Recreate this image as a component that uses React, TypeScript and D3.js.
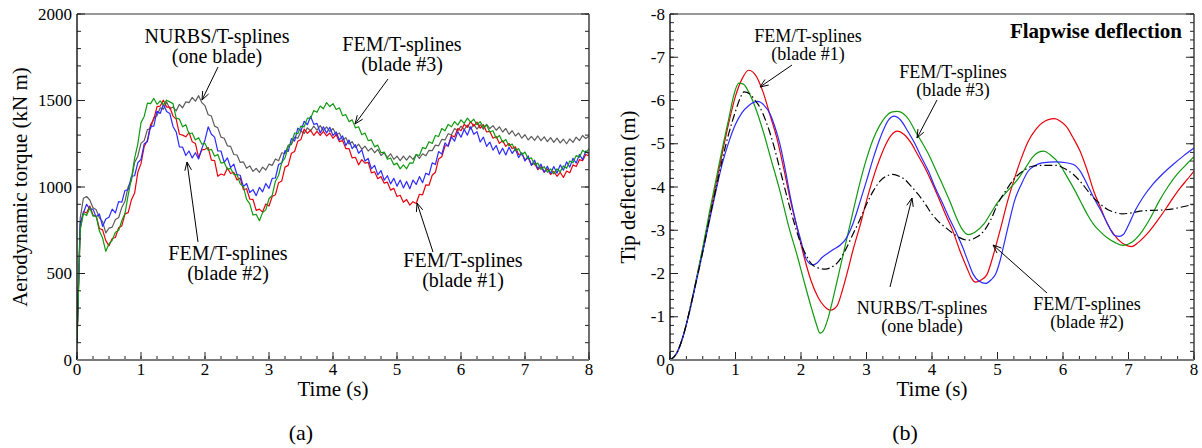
import React from "react";
import * as d3 from "d3";

// ---------- Panel (a): aerodynamic torque (kN m), sampled every 0.05 s from 0 to 8 s ----------
const TORQUE_TIME: number[] = d3.range(161).map((i) => +(i * 0.05).toFixed(2));

const torqueNurbs: number[] = [
  100, 820, 935, 945, 925, 880, 868, 822, 800, 735, 762, 768, 812, 822, 882, 918, 1002, 1038, 1142, 1178,
  1252, 1268, 1332, 1338, 1402, 1412, 1458, 1450, 1492, 1452, 1462, 1440, 1478, 1458, 1492, 1488, 1518, 1496, 1528, 1488,
  1470, 1418, 1410, 1352, 1342, 1288, 1282, 1238, 1235, 1188, 1185, 1142, 1145, 1108, 1122, 1090, 1108, 1085, 1115, 1098,
  1132, 1125, 1162, 1152, 1198, 1192, 1242, 1245, 1288, 1282, 1322, 1310, 1342, 1325, 1352, 1328, 1355, 1326, 1348, 1320,
  1338, 1302, 1312, 1272, 1285, 1248, 1262, 1228, 1248, 1218, 1236, 1208, 1225, 1198, 1218, 1182, 1198, 1170, 1192, 1160,
  1178, 1152, 1178, 1155, 1180, 1160, 1188, 1165, 1192, 1180, 1212, 1210, 1242, 1238, 1275, 1272, 1308, 1302, 1338, 1325,
  1352, 1332, 1358, 1336, 1362, 1335, 1360, 1334, 1362, 1338, 1355, 1328, 1348, 1318, 1338, 1305, 1325, 1295, 1312, 1282,
  1302, 1272, 1292, 1270, 1295, 1268, 1290, 1262, 1285, 1258, 1282, 1255, 1276, 1250, 1278, 1258, 1288, 1268, 1298, 1280,
  1295,
];

const torqueBlade1: number[] = [
  100, 760, 858, 850, 890, 838, 832, 760, 752, 690, 660, 702, 708, 765, 775, 845, 852, 925, 965, 1085,
  1135, 1235, 1270, 1360, 1392, 1465, 1468, 1502, 1462, 1462, 1410, 1392, 1305, 1300, 1290, 1315, 1262, 1252, 1170, 1215,
  1218, 1228, 1155, 1152, 1062, 1075, 1068, 1110, 1078, 1085, 1040, 1052, 985, 990, 930, 928, 865, 872, 855, 902,
  890, 945, 955, 1025, 1035, 1115, 1125, 1195, 1205, 1265, 1275, 1335, 1310, 1328, 1298, 1322, 1298, 1322, 1295, 1312,
  1282, 1302, 1262, 1268, 1222, 1222, 1168, 1172, 1128, 1158, 1138, 1142, 1082, 1088, 1048, 1060, 1022, 1028, 982, 992,
  945, 952, 912, 928, 895, 915, 905, 958, 955, 1012, 1010, 1068, 1085, 1162, 1175, 1238, 1240, 1298, 1290, 1338,
  1325, 1362, 1345, 1378, 1352, 1375, 1340, 1360, 1318, 1322, 1282, 1292, 1252, 1268, 1235, 1252, 1222, 1232, 1188, 1192,
  1158, 1168, 1128, 1138, 1100, 1118, 1085, 1105, 1072, 1090, 1062, 1085, 1055, 1092, 1082, 1128, 1118, 1158, 1152, 1188,
  1180,
];

const torqueBlade2: number[] = [
  100, 790, 850, 900, 872, 872, 826, 845, 772, 815, 825, 872, 850, 915, 912, 980, 985, 1062, 1065, 1140,
  1160, 1250, 1262, 1350, 1352, 1438, 1425, 1478, 1436, 1425, 1350, 1318, 1232, 1230, 1182, 1208, 1168, 1198, 1162, 1222,
  1272, 1348, 1305, 1288, 1208, 1208, 1142, 1168, 1112, 1132, 1072, 1068, 1002, 1020, 968, 985, 950, 998, 972, 1020,
  992, 1050, 1052, 1130, 1140, 1210, 1205, 1280, 1265, 1340, 1325, 1380, 1360, 1408, 1362, 1368, 1312, 1348, 1312, 1345,
  1298, 1318, 1272, 1295, 1240, 1272, 1222, 1245, 1195, 1215, 1150, 1165, 1105, 1125, 1070, 1095, 1040, 1065, 1018, 1050,
  1005, 1040, 995, 1032, 990, 1040, 1015, 1060, 1025, 1080, 1070, 1140, 1130, 1205, 1190, 1255, 1235, 1290, 1265, 1320,
  1288, 1332, 1300, 1348, 1305, 1320, 1260, 1288, 1235, 1260, 1213, 1240, 1190, 1224, 1185, 1230, 1194, 1220, 1170, 1198,
  1150, 1180, 1125, 1155, 1105, 1132, 1085, 1120, 1078, 1118, 1080, 1128, 1097, 1145, 1115, 1166, 1138, 1188, 1158, 1208,
  1190,
];

const torqueBlade3: number[] = [
  100, 750, 848, 835, 880, 832, 832, 745, 705, 628, 672, 692, 738, 748, 805, 848, 955, 1048, 1165, 1248,
  1372, 1408, 1485, 1482, 1512, 1478, 1498, 1475, 1502, 1492, 1482, 1398, 1392, 1348, 1360, 1308, 1312, 1272, 1285, 1248,
  1252, 1212, 1218, 1178, 1188, 1138, 1142, 1102, 1108, 1072, 1072, 1018, 1002, 928, 902, 838, 842, 805, 852, 868,
  932, 952, 1032, 1068, 1142, 1168, 1232, 1252, 1312, 1308, 1352, 1348, 1398, 1398, 1442, 1432, 1468, 1452, 1488, 1465,
  1482, 1448, 1458, 1412, 1418, 1378, 1388, 1342, 1348, 1302, 1312, 1268, 1272, 1232, 1242, 1198, 1202, 1160, 1168, 1128,
  1138, 1105, 1128, 1105, 1140, 1138, 1188, 1182, 1228, 1222, 1262, 1252, 1298, 1292, 1338, 1325, 1362, 1348, 1378, 1358,
  1388, 1368, 1398, 1375, 1392, 1360, 1378, 1345, 1358, 1318, 1325, 1282, 1298, 1260, 1275, 1238, 1248, 1210, 1222, 1185,
  1202, 1162, 1168, 1128, 1138, 1102, 1118, 1085, 1105, 1075, 1105, 1088, 1122, 1108, 1150, 1140, 1182, 1172, 1212, 1198,
  1222,
];

const TORQUE_X_TICKS = [0, 1, 2, 3, 4, 5, 6, 7, 8];
const TORQUE_Y_TICKS = [0, 500, 1000, 1500, 2000];

// ---------- Panel (b): tip deflection (m), [time, deflection] ----------
const deflBlade1: [number, number][] = [
  [0, 0], [0.1, -0.15], [0.2, -0.55], [0.3, -1.15], [0.4, -1.85], [0.5, -2.55], [0.6, -3.3], [0.7, -4.05], [0.8, -4.8], [0.9, -5.5],
  [1.0, -6.1], [1.1, -6.5], [1.2, -6.7], [1.3, -6.6], [1.42, -6.2], [1.52, -5.7], [1.63, -5.14], [1.74, -4.4], [1.84, -3.68], [1.95, -3.0],
  [2.05, -2.37], [2.15, -1.85], [2.26, -1.45], [2.35, -1.25], [2.45, -1.15], [2.55, -1.25], [2.63, -1.6], [2.72, -2.1], [2.79, -2.52], [2.9, -3.1],
  [3.0, -3.68], [3.1, -4.2], [3.21, -4.68], [3.3, -5.0], [3.37, -5.18], [3.47, -5.29], [3.57, -5.22], [3.68, -5.02], [3.78, -4.75], [3.89, -4.45],
  [4.0, -4.1], [4.1, -3.75], [4.21, -3.35], [4.32, -2.98], [4.42, -2.55], [4.53, -2.14], [4.6, -1.9], [4.66, -1.8], [4.75, -1.85], [4.84, -1.98],
  [4.95, -2.5], [5.05, -3.06], [5.15, -3.65], [5.26, -4.2], [5.36, -4.65], [5.47, -5.06], [5.58, -5.32], [5.68, -5.48], [5.87, -5.58], [5.96, -5.52],
  [6.05, -5.4], [6.15, -5.15], [6.26, -4.83], [6.37, -4.38], [6.47, -3.9], [6.58, -3.5], [6.68, -3.14], [6.78, -2.9], [6.89, -2.72], [6.97, -2.65],
  [7.05, -2.62], [7.15, -2.72], [7.32, -2.98], [7.45, -3.24], [7.58, -3.52], [7.68, -3.75], [7.79, -3.98], [7.9, -4.18], [8.0, -4.37],
];

const deflBlade2: [number, number][] = [
  [0, 0], [0.1, -0.15], [0.2, -0.55], [0.3, -1.12], [0.4, -1.8], [0.5, -2.5], [0.6, -3.2], [0.7, -3.9], [0.8, -4.55], [0.9, -5.05],
  [1.0, -5.45], [1.1, -5.72], [1.2, -5.88], [1.34, -5.98], [1.43, -5.9], [1.53, -5.68], [1.6, -5.4], [1.68, -4.98], [1.76, -4.4], [1.84, -3.75],
  [1.92, -3.2], [2.0, -2.75], [2.08, -2.33], [2.18, -2.2], [2.25, -2.25], [2.32, -2.37], [2.41, -2.47], [2.5, -2.56], [2.6, -2.66], [2.68, -2.79],
  [2.79, -3.14], [2.9, -3.65], [3.0, -4.14], [3.1, -4.65], [3.21, -5.14], [3.34, -5.56], [3.42, -5.64], [3.52, -5.55], [3.63, -5.29], [3.74, -5.0],
  [3.84, -4.68], [3.95, -4.35], [4.05, -3.98], [4.16, -3.63], [4.26, -3.29], [4.37, -2.95], [4.47, -2.6], [4.55, -2.28], [4.63, -1.98], [4.72, -1.82],
  [4.82, -1.77], [4.9, -1.85], [4.97, -1.98], [5.04, -2.3], [5.1, -2.68], [5.18, -3.2], [5.26, -3.68], [5.36, -4.05], [5.47, -4.37], [5.58, -4.5],
  [5.68, -4.56], [5.89, -4.58], [6.05, -4.56], [6.16, -4.52], [6.27, -4.35], [6.37, -4.06], [6.47, -3.75], [6.58, -3.45], [6.68, -3.15], [6.79, -2.88],
  [6.86, -2.86], [6.92, -2.9], [7.0, -3.12], [7.1, -3.45], [7.23, -3.78], [7.37, -4.06], [7.52, -4.3], [7.68, -4.52], [7.84, -4.72], [8.0, -4.9],
];

const deflBlade3: [number, number][] = [
  [0, 0], [0.1, -0.15], [0.2, -0.55], [0.3, -1.15], [0.4, -1.85], [0.5, -2.6], [0.6, -3.4], [0.7, -4.15], [0.8, -4.9], [0.9, -5.6],
  [0.97, -6.1], [1.05, -6.4], [1.12, -6.38], [1.2, -6.2], [1.3, -5.85], [1.42, -5.3], [1.55, -4.6], [1.68, -3.9], [1.81, -3.1], [1.95, -2.37],
  [2.05, -1.8], [2.16, -1.2], [2.23, -0.85], [2.29, -0.62], [2.35, -0.7], [2.41, -0.95], [2.47, -1.3], [2.57, -1.95], [2.68, -2.68], [2.79, -3.4],
  [2.9, -4.1], [3.0, -4.65], [3.1, -5.1], [3.2, -5.42], [3.3, -5.64], [3.38, -5.73], [3.47, -5.75], [3.56, -5.7], [3.65, -5.55], [3.74, -5.3],
  [3.84, -5.05], [3.95, -4.75], [4.05, -4.42], [4.16, -4.06], [4.27, -3.68], [4.37, -3.3], [4.45, -3.05], [4.55, -2.9], [4.65, -2.95], [4.79, -3.14],
  [4.9, -3.4], [5.0, -3.64], [5.16, -3.92], [5.32, -4.2], [5.43, -4.45], [5.53, -4.68], [5.62, -4.8], [5.71, -4.83], [5.8, -4.75], [5.95, -4.52],
  [6.05, -4.27], [6.16, -3.98], [6.27, -3.66], [6.37, -3.37], [6.47, -3.13], [6.58, -2.95], [6.68, -2.82], [6.79, -2.72], [6.92, -2.65], [7.05, -2.72],
  [7.21, -2.98], [7.34, -3.3], [7.47, -3.68], [7.6, -4.0], [7.74, -4.29], [7.87, -4.5], [8.0, -4.7],
];

const deflNurbs: [number, number][] = [
  [0, 0], [0.1, -0.15], [0.2, -0.55], [0.3, -1.15], [0.4, -1.82], [0.5, -2.5], [0.6, -3.25], [0.7, -3.95], [0.8, -4.65], [0.9, -5.25],
  [1.0, -5.75], [1.07, -6.05], [1.13, -6.2], [1.22, -6.15], [1.3, -6.0], [1.37, -5.85], [1.47, -5.5], [1.58, -4.98], [1.68, -4.4], [1.79, -3.75],
  [1.9, -3.15], [2.0, -2.68], [2.08, -2.42], [2.16, -2.22], [2.26, -2.13], [2.37, -2.1], [2.47, -2.15], [2.58, -2.29], [2.68, -2.55], [2.79, -2.9],
  [2.9, -3.25], [3.0, -3.6], [3.1, -3.9], [3.21, -4.14], [3.3, -4.25], [3.4, -4.29], [3.5, -4.25], [3.58, -4.18], [3.68, -4.02], [3.79, -3.83],
  [3.9, -3.6], [4.0, -3.37], [4.1, -3.2], [4.21, -3.06], [4.32, -2.93], [4.42, -2.83], [4.55, -2.77], [4.67, -2.83], [4.79, -2.98], [4.9, -3.25],
  [5.0, -3.6], [5.13, -3.92], [5.26, -4.2], [5.4, -4.38], [5.53, -4.48], [5.7, -4.5], [5.89, -4.5], [6.03, -4.42], [6.16, -4.29], [6.29, -4.08],
  [6.42, -3.83], [6.55, -3.63], [6.68, -3.48], [6.8, -3.41], [6.9, -3.38], [7.05, -3.4], [7.21, -3.45], [7.37, -3.46], [7.53, -3.47], [7.7, -3.5],
  [7.85, -3.55], [8.0, -3.6],
];

const DEFL_X_TICKS = [0, 1, 2, 3, 4, 5, 6, 7, 8];
const DEFL_Y_TICKS = [0, -1, -2, -3, -4, -5, -6, -7, -8];

const COLORS = { red: "#e8000b", green: "#119a11", blue: "#2b2bff", gray: "#5c5c5c", black: "#000000" };
const FONT = "Liberation Serif, Times New Roman, serif";

// ---------- helpers ----------
type Lin = d3.ScaleLinear<number, number>;

function Arrow({ x1, y1, x2, y2 }: { x1: number; y1: number; x2: number; y2: number }) {
  const a = Math.atan2(y2 - y1, x2 - x1);
  const L = 9;
  const w = 0.38;
  const p1 = [x2 - L * Math.cos(a - w), y2 - L * Math.sin(a - w)];
  const p2 = [x2 - L * Math.cos(a + w), y2 - L * Math.sin(a + w)];
  return (
    <g stroke="#000" strokeWidth={1} fill="none">
      <line x1={x1} y1={y1} x2={x2} y2={y2} />
      <polyline points={`${p1[0]},${p1[1]} ${x2},${y2} ${p2[0]},${p2[1]}`} />
    </g>
  );
}

function Label({ x, y, lines, size, dy }: { x: number; y: number; lines: string[]; size: number; dy: number }) {
  return (
    <g fontFamily={FONT} fontSize={size} textAnchor="middle" fill="#000">
      {lines.map((l, i) => (
        <text key={i} x={x} y={y + i * dy}>
          {l}
        </text>
      ))}
    </g>
  );
}

function Frame({
  x, y, xMinor, yMinor, xTicks, yTicks, yFmt, tickSize,
}: {
  x: Lin; y: Lin; xMinor: number[]; yMinor: number[]; xTicks: number[]; yTicks: number[];
  yFmt: (v: number) => string; tickSize: number;
}) {
  const [x0, x1] = x.range();
  const [yb, yt] = y.range();
  return (
    <g>
      <g stroke="#222" strokeWidth={1}>
        {xMinor.map((v, i) => (
          <line key={"xm" + i} x1={x(v)} x2={x(v)} y1={yb} y2={yb - 4} />
        ))}
        {xTicks.map((v, i) => (
          <line key={"xM" + i} x1={x(v)} x2={x(v)} y1={yb} y2={yb - 8} />
        ))}
        {yMinor.map((v, i) => (
          <g key={"ym" + i}>
            <line x1={x0} x2={x0 + 4} y1={y(v)} y2={y(v)} />
            <line x1={x1} x2={x1 - 4} y1={y(v)} y2={y(v)} />
          </g>
        ))}
        {yTicks.map((v, i) => (
          <g key={"yM" + i}>
            <line x1={x0} x2={x0 + 8} y1={y(v)} y2={y(v)} />
            <line x1={x1} x2={x1 - 8} y1={y(v)} y2={y(v)} />
          </g>
        ))}
      </g>
      <line x1={x0} x2={x1} y1={yt} y2={yt} stroke="#333" strokeWidth={1.2} />
      <line x1={x1} x2={x1} y1={yt} y2={yb} stroke="#333" strokeWidth={1.4} />
      <line x1={x0} x2={x0} y1={yt} y2={yb} stroke="#111" strokeWidth={1.4} />
      <line x1={x0} x2={x1} y1={yb} y2={yb} stroke="#7a7a7a" strokeWidth={2} />
      <g fontFamily={FONT} fontSize={tickSize} fill="#000">
        {xTicks.map((v, i) => (
          <text key={"xl" + i} x={x(v)} y={yb + 15} textAnchor="middle">
            {String(v)}
          </text>
        ))}
        {yTicks.map((v, i) => (
          <text key={"yl" + i} x={x0 - 5} y={y(v) + 5.5} textAnchor="end">
            {yFmt(v)}
          </text>
        ))}
      </g>
    </g>
  );
}

export default function App() {
  const xL = d3.scaleLinear().domain([0, 8]).range([77, 589]);
  const yL = d3.scaleLinear().domain([0, 2000]).range([360, 14]);
  const torqueLine = d3
    .line<number>()
    .x((_, i) => xL(TORQUE_TIME[i]))
    .y((d) => yL(d));

  const xR = d3.scaleLinear().domain([0, 8]).range([670, 1194]);
  const yR = d3.scaleLinear().domain([0, -8]).range([360, 14]);
  const deflLine = d3
    .line<[number, number]>()
    .x((d) => xR(d[0]))
    .y((d) => yR(d[1]))
    .curve(d3.curveMonotoneX);

  const xMinor = d3.range(0, 8.001, 0.25);
  const yMinorL = d3.range(0, 2001, 100);
  const yMinorR = d3.range(0, 41).map((i) => -i * 0.2);

  return (
    <svg
      width={1202}
      height={448}
      viewBox="0 0 1202 448"
      style={{ position: "absolute", left: 0, top: 0, background: "#fff" }}
    >
      <rect x={0} y={0} width={1202} height={448} fill="#fff" />
      <defs>
        <clipPath id="clipL">
          <rect x={77} y={14} width={512} height={346} />
        </clipPath>
        <clipPath id="clipR">
          <rect x={670} y={14} width={524} height={346} />
        </clipPath>
      </defs>

      {/* ===== Panel (a) ===== */}
      <g clipPath="url(#clipL)" fill="none" strokeWidth={1.2} strokeLinejoin="round">
        <path d={torqueLine(torqueNurbs) || ""} stroke={COLORS.gray} />
        <path d={torqueLine(torqueBlade1) || ""} stroke={COLORS.red} />
        <path d={torqueLine(torqueBlade2) || ""} stroke={COLORS.blue} />
        <path d={torqueLine(torqueBlade3) || ""} stroke={COLORS.green} />
      </g>
      <Frame
        x={xL}
        y={yL}
        xMinor={xMinor}
        yMinor={yMinorL}
        xTicks={TORQUE_X_TICKS}
        yTicks={TORQUE_Y_TICKS}
        yFmt={(v) => String(v)}
        tickSize={17}
      />
      <text x={333} y={396} fontFamily={FONT} fontSize={21} textAnchor="middle">
        Time (s)
      </text>
      <text
        transform={`translate(27, ${187}) rotate(-90)`}
        fontFamily={FONT}
        fontSize={21}
        textAnchor="middle"
      >
        Aerodynamic torque (kN m)
      </text>
      <text x={301} y={440} fontFamily={FONT} fontSize={22} textAnchor="middle">
        (a)
      </text>

      <Label x={217} y={43} lines={["NURBS/T-splines", "(one blade)"]} size={20} dy={20} />
      <Arrow x1={218} y1={67} x2={202} y2={100} />
      <Label x={402} y={51} lines={["FEM/T-splines", "(blade #3)"]} size={20} dy={20} />
      <Arrow x1={388} y1={79} x2={355} y2={124} />
      <Label x={228} y={260} lines={["FEM/T-splines", "(blade #2)"]} size={20} dy={20} />
      <Arrow x1={198} y1={242} x2={187} y2={162} />
      <Label x={463} y={267} lines={["FEM/T-splines", "(blade #1)"]} size={20} dy={20} />
      <Arrow x1={433} y1={252} x2={417} y2={203} />

      {/* ===== Panel (b) ===== */}
      <g clipPath="url(#clipR)" fill="none" strokeWidth={1.2}>
        <path d={deflLine(deflBlade1) || ""} stroke={COLORS.red} />
        <path d={deflLine(deflBlade3) || ""} stroke={COLORS.green} />
        <path d={deflLine(deflBlade2) || ""} stroke={COLORS.blue} />
        <path d={deflLine(deflNurbs) || ""} stroke={COLORS.black} strokeDasharray="8,3,1.5,3" />
      </g>
      <Frame
        x={xR}
        y={yR}
        xMinor={xMinor}
        yMinor={yMinorR}
        xTicks={DEFL_X_TICKS}
        yTicks={DEFL_Y_TICKS}
        yFmt={(v) => (v === 0 ? "0" : String(v))}
        tickSize={17}
      />
      <text x={932} y={396} fontFamily={FONT} fontSize={21} textAnchor="middle">
        Time (s)
      </text>
      <text
        transform={`translate(635, ${187}) rotate(-90)`}
        fontFamily={FONT}
        fontSize={21}
        textAnchor="middle"
      >
        Tip deflection (m)
      </text>
      <text x={905} y={440} fontFamily={FONT} fontSize={22} textAnchor="middle">
        (b)
      </text>
      <text x={1182} y={38} fontFamily={FONT} fontSize={21} fontWeight="bold" textAnchor="end">
        Flapwise deflection
      </text>

      <Label x={808} y={42} lines={["FEM/T-splines", "(blade #1)"]} size={18} dy={18} />
      <Arrow x1={792} y1={65} x2={760} y2={87} />
      <Label x={953} y={78} lines={["FEM/T-splines", "(blade #3)"]} size={18} dy={18} />
      <Arrow x1={937} y1={100} x2={917} y2={138} />
      <Label x={922} y={314} lines={["NURBS/T-splines", "(one blade)"]} size={18} dy={18} />
      <Arrow x1={890} y1={287} x2={912} y2={198} />
      <Label x={1087} y={310} lines={["FEM/T-splines", "(blade #2)"]} size={18} dy={18} />
      <Arrow x1={1047} y1={293} x2={993} y2={245} />
    </svg>
  );
}
